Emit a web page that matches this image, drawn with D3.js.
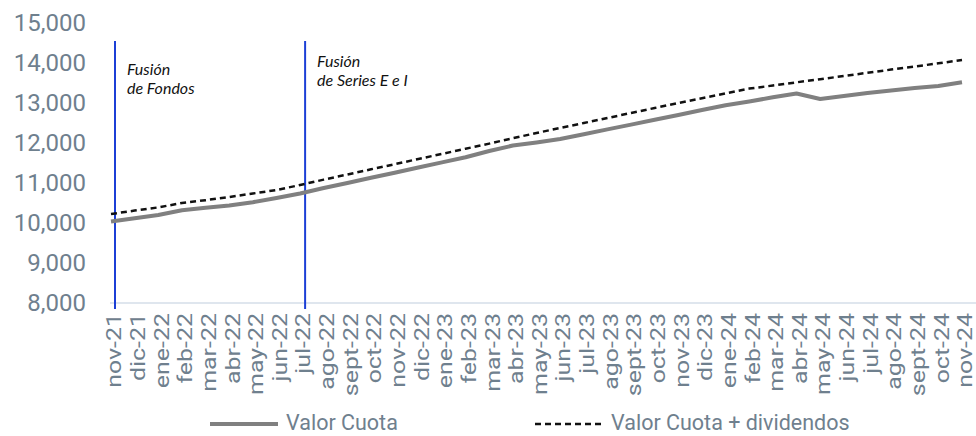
<!DOCTYPE html>
<html>
<head>
<meta charset="utf-8">
<script src="https://cdn.jsdelivr.net/npm/d3@7"></script>
<style>
    body { margin: 0; background: #fff; }
    svg { display: block; font-family: Roboto, "Noto Sans", sans-serif; }
</style>
</head>
<body>
<div id="chart"></div>
<script>
const months = [
    'nov-21', 'dic-21', 'ene-22', 'feb-22', 'mar-22', 'abr-22', 'may-22', 'jun-22', 'jul-22',
    'ago-22', 'sept-22', 'oct-22', 'nov-22', 'dic-22', 'ene-23', 'feb-23', 'mar-23', 'abr-23',
    'may-23', 'jun-23', 'jul-23', 'ago-23', 'sept-23', 'oct-23', 'nov-23', 'dic-23', 'ene-24',
    'feb-24', 'mar-24', 'abr-24', 'may-24', 'jun-24', 'jul-24', 'ago-24', 'sept-24', 'oct-24', 'nov-24'
];

const valorCuota = [
    10037, 10120, 10200, 10320, 10380, 10440, 10520, 10625, 10737,
    10875, 11000, 11130, 11257, 11387, 11515, 11645, 11800, 11937,
    12012, 12100, 12217, 12340, 12460, 12582, 12702, 12825, 12945,
    13037, 13142, 13237, 13100, 13175, 13250, 13312, 13375, 13425, 13517
];

const valorCuotaDiv = [
    10225, 10310, 10390, 10500, 10570, 10650, 10737, 10825, 10950,
    11085, 11212, 11342, 11470, 11600, 11727, 11857, 11985, 12120,
    12250, 12375, 12500, 12625, 12750, 12875, 13000, 13120, 13240,
    13360, 13437, 13517, 13595, 13675, 13755, 13835, 13912, 13992, 14075
];

const yTicks = [8000, 9000, 10000, 11000, 12000, 13000, 14000, 15000];

const events = [
    { month: 'nov-21', lines: ['Fusión', 'de Fondos'] },
    { month: 'jul-22', lines: ['Fusión', 'de Series E e I'] }
];

const width = 976;
const height = 436;

const svg = d3.select('#chart')
    .append('svg')
    .attr('width', width)
    .attr('height', height);

const x = d3.scalePoint()
    .domain(months)
    .range([111, 962]);

const y = d3.scaleLinear()
    .domain([8000, 15000])
    .range([303, 23]);

// baseline
svg.append('line')
    .attr('x1', 110)
    .attr('x2', width)
    .attr('y1', y(8000))
    .attr('y2', y(8000))
    .attr('stroke', '#dfe6ee')
    .attr('stroke-width', 2);

// y axis labels
const yAxis = svg.append('g')
    .attr('transform', 'translate(86,0)')
    .call(d3.axisLeft(y).tickValues(yTicks).tickSize(0).tickPadding(0).tickFormat(d3.format(',')));
yAxis.select('.domain').remove();
yAxis.selectAll('text')
    .attr('fill', '#6f808e')
    .attr('font-size', 24)
    .attr('font-family', 'Roboto, sans-serif');

// x axis labels (stretched along their length like the original)
const xAxis = svg.append('g')
    .attr('transform', `translate(0,${y(8000)})`)
    .call(d3.axisBottom(x).tickSize(0).tickPadding(0));
xAxis.select('.domain').remove();
xAxis.selectAll('text')
    .attr('fill', '#6f808e')
    .attr('font-size', 19.5)
    .attr('font-family', 'Roboto, sans-serif')
    .attr('text-anchor', 'end')
    .attr('transform', 'translate(3,10) rotate(-90) scale(1.28,1)')
    .attr('dy', '0.35em')
    .attr('y', 0)
    .attr('x', 0);

// event markers
events.forEach((ev, i) => {
    const ex = x(ev.month) + 4 + i;
    svg.append('line')
        .attr('x1', ex)
        .attr('x2', ex)
        .attr('y1', 41)
        .attr('y2', 309)
        .attr('stroke', '#1c3fd6')
        .attr('stroke-width', 2);
    const t = svg.append('text')
        .attr('x', ex + 12)
        .attr('y', i === 0 ? 75 : 67)
        .attr('font-family', 'Lato, sans-serif')
        .attr('font-style', 'italic')
        .attr('font-size', 16)
        .attr('fill', '#111');
    ev.lines.forEach((l, j) => {
        t.append('tspan')
            .attr('x', ex + 12)
            .attr('dy', j === 0 ? 0 : 19)
            .text(l);
    });
});

const line = d3.line()
    .x((d, i) => x(months[i]))
    .y(d => y(d));

svg.append('path')
    .datum(valorCuota)
    .attr('fill', 'none')
    .attr('stroke', '#808080')
    .attr('stroke-width', 4)
    .attr('stroke-linejoin', 'round')
    .attr('d', line);

svg.append('path')
    .datum(valorCuotaDiv)
    .attr('fill', 'none')
    .attr('stroke', '#111')
    .attr('stroke-width', 2.5)
    .attr('stroke-dasharray', '6,4')
    .attr('d', line);

// legend
const legend = [
    { name: 'Valor Cuota', color: '#808080', w: 4, dash: null, x: 210 },
    { name: 'Valor Cuota + dividendos', color: '#111', w: 2.5, dash: '6,4', x: 535 }
];
legend.forEach(item => {
    svg.append('line')
        .attr('x1', item.x)
        .attr('x2', item.x + 68)
        .attr('y1', 424)
        .attr('y2', 424)
        .attr('stroke', item.color)
        .attr('stroke-width', item.w)
        .attr('stroke-dasharray', item.dash);
    svg.append('text')
        .attr('x', item.x + 76)
        .attr('y', 422)
        .attr('dy', '0.35em')
        .attr('font-size', 21.5)
        .attr('fill', '#6f808e')
        .text(item.name);
});
</script>
</body>
</html>
